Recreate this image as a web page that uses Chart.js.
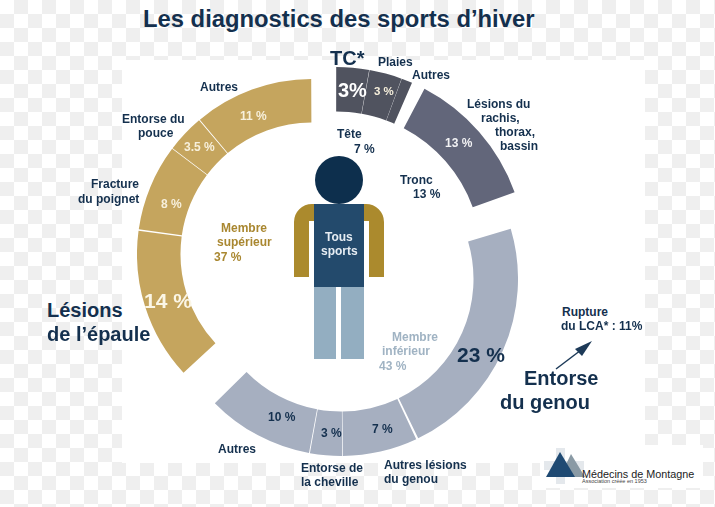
<!DOCTYPE html>
<html lang="fr">
<head>
<meta charset="utf-8">
<title>Les diagnostics des sports d'hiver</title>
<script src="https://cdn.jsdelivr.net/npm/chart.js@4"></script>
<style>
  html, body { margin: 0; padding: 0; }
  body {
    position: relative; width: 715px; height: 507px; overflow: hidden;
    font-family: "Liberation Sans", Arial, sans-serif; font-weight: bold;
    background: repeating-conic-gradient(#efefef 0 25%, #fff 0 50%) 0 0 / 28px 28px;
  }
  .patch { position: absolute; background: #fff; }
  .ring { position: absolute; }
  .txt { position: absolute; white-space: nowrap; line-height: 1; transform: translateY(-50%); }
  svg { position: absolute; left: 0; top: 0; }
</style>
</head>
<body>
<div class="patch" style="left:122px;top:60px;width:523px;height:403px"></div>
<div class="patch" style="left:540px;top:445px;width:163px;height:43px"></div>

<svg width="715" height="507">
  <!-- figure -->
  <path fill="#ab8a2d" d="M314 204 h-2 a18 18 0 0 0 -18 18 v55 h15 v-56 h5 z"/>
  <path fill="#ab8a2d" d="M364 204 h2 a18 18 0 0 1 18 18 v55 h-15 v-56 h-5 z"/>
  <rect x="314" y="204" width="50" height="83" fill="#234a6c"/>
  <rect x="314" y="287" width="22" height="72" fill="#93aec1"/>
  <rect x="341" y="287" width="23" height="72" fill="#93aec1"/>
  <circle cx="339" cy="180" r="24" fill="#0d2f4d"/>
  <!-- arrow -->
  <line x1="556" y1="369" x2="585" y2="347" stroke="#1d3a58" stroke-width="1.5"/>
  <polygon points="592,341 575,349 582,356" fill="#1d3a58"/>
  <!-- logo -->
  <rect x="544" y="461" width="40" height="9" fill="#e4e8ec"/>
  <rect x="556" y="448" width="9" height="36" fill="#e4e8ec"/>
  <polygon points="571,454 560,477 585,477" fill="#8a9aa5"/>
  <polygon points="560,452 546,477 575,477" fill="#1f4a73"/>
</svg>

<canvas id="headRing" class="ring"></canvas>
<canvas id="trunkRing" class="ring"></canvas>
<canvas id="upperRing" class="ring"></canvas>
<canvas id="lowerRing" class="ring"></canvas>

<script>
// percentages, clockwise in each arc
const headValues = [3, 3, 1];
const trunkValues = [13];
const upperValues = [14, 8, 3.5, 11];
const lowerValues = [23, 7, 3, 10];

const navy = "#14304e";
const gold = "#c5a55e";
const blueGrey = "#a6afc0";
const cream = "#f7f0dc";

/**
 * draws one arc group as a doughnut, the part of the circle it does not
 * use is a transparent slice so the centre stays in the middle of the canvas
 */
function drawRing(id, values, color, ring) {
  const canvas = document.getElementById(id);
  canvas.style.left = ring.x - ring.outer + "px";
  canvas.style.top = ring.y - ring.outer + "px";
  canvas.style.width = ring.outer * 2 + "px";
  canvas.style.height = ring.outer * 2 + "px";
  canvas.width = ring.outer * 2;
  canvas.height = ring.outer * 2;

  const total = values.reduce((a, b) => a + b, 0);
  const rest = total * (360 / ring.span - 1);

  new Chart(canvas, {
    type: "doughnut",
    data: {
      labels: values.map((v) => v + " %").concat(""),
      datasets: [
        {
          data: values.concat(rest),
          backgroundColor: values.map(() => color).concat("rgba(0,0,0,0)"),
          borderWidth: 0,
          spacing: 4,
        },
      ],
    },
    options: {
      responsive: false,
      animation: false,
      rotation: ring.start,
      cutout: (ring.inner / ring.outer) * 100 + "%",
      plugins: { legend: { display: false }, tooltip: { enabled: false } },
    },
  });
}

drawRing("headRing", headValues, "#50535f", { x: 336, y: 257, outer: 190, inner: 145, start: 0, span: 23.6 });
drawRing("trunkRing", trunkValues, "#62667a", { x: 336, y: 257, outer: 190, inner: 145, start: 27.5, span: 42.8 });
drawRing("upperRing", upperValues, gold, { x: 312, y: 254, outer: 175, inner: 131, start: 226.9, span: 133.1 });
drawRing("lowerRing", lowerValues, blueGrey, { x: 341, y: 279, outer: 177, inner: 132, start: 73, span: 152.7 });

// text, left edge, vertical middle, size, colour
const texts = [
  ["Les diagnostics des sports d’hiver", 143, 19, 23.8, navy],
  ["TC*", 330, 58, 20, navy],
  ["Plaies", 378, 62, 12, navy],
  ["Autres", 412, 75, 12, navy],
  ["3%", 338, 90, 20, "#fff"],
  ["3 %", 374, 92, 11.5, cream],
  ["Lésions du", 467, 104, 12, navy],
  ["rachis,", 481, 118, 12, navy],
  ["thorax,", 495, 132, 12, navy],
  ["bassin", 500, 146, 12, navy],
  ["13 %", 445, 143, 12, "#f2f2f4"],
  ["Tête", 337, 134, 12, navy],
  ["7 %", 354, 149, 12, navy],
  ["Tronc", 400, 180, 12, navy],
  ["13 %", 413, 194, 12, navy],
  ["Autres", 200, 87, 12, navy],
  ["11 %", 240, 116, 12, cream],
  ["Entorse du", 122, 119, 12, navy],
  ["pouce", 138, 133, 12, navy],
  ["3.5 %", 184, 147, 12, cream],
  ["Fracture", 91, 184, 12, navy],
  ["du poignet", 78, 199, 12, navy],
  ["8 %", 161, 204, 12, cream],
  ["14 %", 144, 300, 21, "#fbf6e6"],
  ["Membre", 221, 228, 12, "#a98730"],
  ["supérieur", 217, 242, 12, "#a98730"],
  ["37 %", 214, 257, 12, "#a98730"],
  ["Tous", 325, 237, 12, "#e6edf3"],
  ["sports", 321, 251, 12, "#e6edf3"],
  ["Lésions", 47, 310, 20, navy],
  ["de l’épaule", 47, 334, 20, navy],
  ["Membre", 392, 337, 12, "#a0b3c3"],
  ["inférieur", 382, 351, 12, "#a0b3c3"],
  ["43 %", 379, 366, 12, "#a0b3c3"],
  ["23 %", 457, 354, 21, navy],
  ["10 %", 268, 417, 12, navy],
  ["3 %", 321, 433, 12, navy],
  ["7 %", 372, 429, 12, navy],
  ["Autres", 218, 449, 12, navy],
  ["Entorse de", 301, 468, 12, navy],
  ["la cheville", 301, 482, 12, navy],
  ["Autres lésions", 384, 465, 12, navy],
  ["du genou", 384, 479, 12, navy],
  ["Rupture", 562, 312, 12, navy],
  ["du LCA* : 11%", 561, 326, 12, navy],
  ["Entorse", 524, 378, 20, navy],
  ["du genou", 500, 402, 20, navy],
];

function putText(item) {
  const el = document.createElement("div");
  el.className = "txt";
  el.textContent = item[0];
  el.style.left = item[1] + "px";
  el.style.top = item[2] + "px";
  el.style.fontSize = item[3] + "px";
  el.style.color = item[4];
  document.body.appendChild(el);
  return el;
}

texts.forEach(putText);

// logo text is not bold
const logoName = putText(["Médecins de Montagne", 582, 474, 10.8, "#222"]);
logoName.style.fontWeight = "normal";
const logoSub = putText(["Association créée en 1953", 582, 482, 5.5, "#444"]);
logoSub.style.fontWeight = "normal";
</script>
</body>
</html>
